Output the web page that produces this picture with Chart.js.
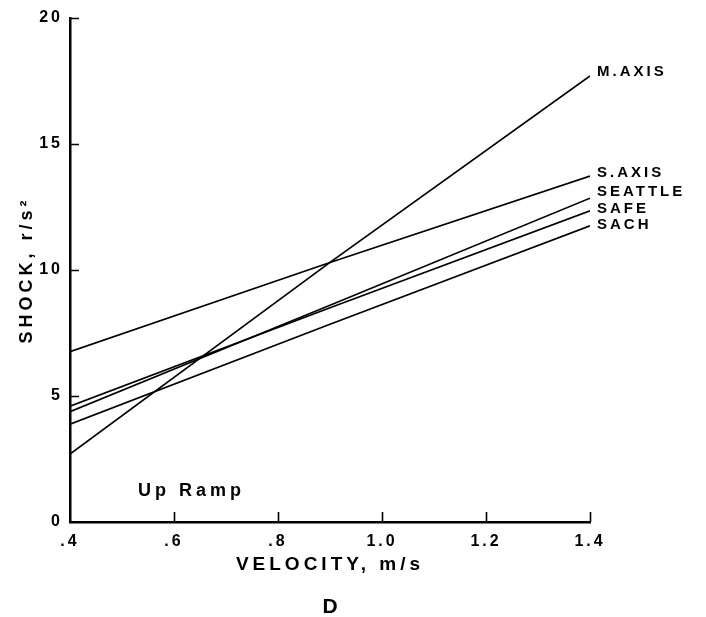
<!DOCTYPE html>
<html>
<head>
<meta charset="utf-8">
<script src="https://cdn.jsdelivr.net/npm/chart.js@4"></script>
<style>
  html, body { margin: 0; padding: 0; background: #fff; }
  #wrap { width: 706px; height: 617px; }
</style>
</head>
<body>
<div id="wrap"><canvas id="c" width="706" height="617"></canvas></div>
<script>
// ---- data ----
const xTickValues = [0.4, 0.6, 0.8, 1.0, 1.2, 1.4];
const xTickLabels = ['.4', '.6', '.8', '1.0', '1.2', '1.4'];
const yTickValues = [0, 5, 10, 15, 20];
const yTickLabels = ['0', '5', '10', '15', '20'];
const velocity = [0.4, 0.9, 1.4];
const seriesNames = ['M.AXIS', 'S.AXIS', 'SEATTLE', 'SAFE', 'SACH'];
const mAxis   = [2.7, 10.3, 17.7];
const sAxis   = [6.76, 10.3, 13.73];
const seattle = [4.38, 8.6, 12.85];
const safe    = [4.6, 8.5, 12.35];
const sach    = [3.88, 7.85, 11.75];
const xTitle = 'VELOCITY, m/s';
const yTitle = 'SHOCK, r/s\u00B2';
const noteText = 'Up Ramp';
const panelLetter = 'D';

// ---- styling ----
const FONT = '"Liberation Sans", Arial, Helvetica, sans-serif';
const labelDy = [-4, -3, -6, -2, -1];
const seriesValues = [mAxis, sAxis, seattle, safe, sach];

const datasets = seriesValues.map((vals, k) => ({
  label: seriesNames[k],
  data: velocity.map((x, i) => ({ x: x, y: vals[i] })),
  showLine: true,
  borderColor: '#000',
  backgroundColor: '#000',
  borderWidth: 1.7,
  pointRadius: 0,
  pointHoverRadius: 0,
  tension: 0,
  fill: false
}));

const decor = {
  id: 'decor',
  beforeDraw(chart) { chart.ctx.letterSpacing = '4px'; },
  beforeDatasetsDraw(chart) { chart.ctx.letterSpacing = '3px'; },
  afterDatasetsDraw(chart) {
    const ctx = chart.ctx;
    const xs = chart.scales.x, ys = chart.scales.y;
    const ca = chart.chartArea;
    ctx.save();
    ctx.strokeStyle = '#000';
    ctx.lineWidth = 1.6;
    ctx.beginPath();
    yTickValues.forEach(v => {
      if (v === yTickValues[0]) return;
      const py = Math.round(ys.getPixelForValue(v)) + 0.5;
      ctx.moveTo(ca.left, py); ctx.lineTo(ca.left + 9, py);
    });
    xTickValues.forEach(v => {
      if (v === xTickValues[0]) return;
      const px = Math.round(xs.getPixelForValue(v)) + 0.5;
      ctx.moveTo(px, ca.bottom); ctx.lineTo(px, ca.bottom - 10);
    });
    ctx.stroke();
    // series labels at line ends
    ctx.fillStyle = '#000';
    ctx.font = 'bold 15px ' + FONT;
    ctx.letterSpacing = '3px';
    ctx.textAlign = 'left';
    ctx.textBaseline = 'middle';
    seriesNames.forEach((name, k) => {
      const pts = chart.getDatasetMeta(k).data;
      const p = pts[pts.length - 1];
      ctx.fillText(name, p.x + 7, p.y + labelDy[k]);
    });
    ctx.restore();
  },
  afterDraw(chart) {
    const ctx = chart.ctx;
    const ca = chart.chartArea;
    ctx.save();
    ctx.fillStyle = '#000';
    ctx.textBaseline = 'alphabetic';
    ctx.textAlign = 'left';
    ctx.font = 'bold 18px ' + FONT;
    ctx.letterSpacing = '4px';
    ctx.fillText(noteText, ca.left + 68, ca.bottom - 26);
    ctx.textAlign = 'center';
    ctx.font = 'bold 21px ' + FONT;
    ctx.letterSpacing = '0px';
    ctx.fillText(panelLetter, (ca.left + ca.right) / 2, chart.height - 4);
    ctx.restore();
    ctx.letterSpacing = '0px';
  }
};

new Chart(document.getElementById('c'), {
  type: 'scatter',
  data: { datasets: datasets },
  options: {
    responsive: false,
    animation: false,
    devicePixelRatio: 1,
    layout: { padding: { top: 18, right: 116, bottom: 0, left: 0 } },
    plugins: { legend: { display: false }, tooltip: { enabled: false } },
    scales: {
      x: {
        type: 'linear',
        min: 0.4, max: 1.4,
        afterBuildTicks: s => { s.ticks = xTickValues.map(v => ({ value: v })); },
        afterFit: s => { s.height = 95; },
        ticks: {
          callback: (v, i) => xTickLabels[i],
          font: { family: FONT, weight: 'bold', size: 16 },
          color: '#000', padding: 10, z: 1, autoSkip: false, maxRotation: 0
        },
        grid: { display: false, drawTicks: false },
        border: { display: true, color: '#000', width: 2.5 },
        title: {
          display: true, text: xTitle, color: '#000',
          font: { family: FONT, weight: 'bold', size: 19 },
          padding: { top: 0, bottom: 41 }
        }
      },
      y: {
        type: 'linear',
        min: 0, max: 20,
        afterBuildTicks: s => { s.ticks = yTickValues.map(v => ({ value: v })); },
        afterFit: s => { s.width = 70; },
        ticks: {
          callback: (v, i) => yTickLabels[i],
          font: { family: FONT, weight: 'bold', size: 16 },
          color: '#000', padding: 7, z: 1
        },
        grid: { display: false, drawTicks: false },
        border: { display: true, color: '#000', width: 2.5 },
        title: {
          display: true, text: yTitle, color: '#000',
          font: { family: FONT, weight: 'bold', size: 18 },
          padding: { top: 16, bottom: 0 }
        }
      }
    }
  },
  plugins: [decor]
});
</script>
</body>
</html>
